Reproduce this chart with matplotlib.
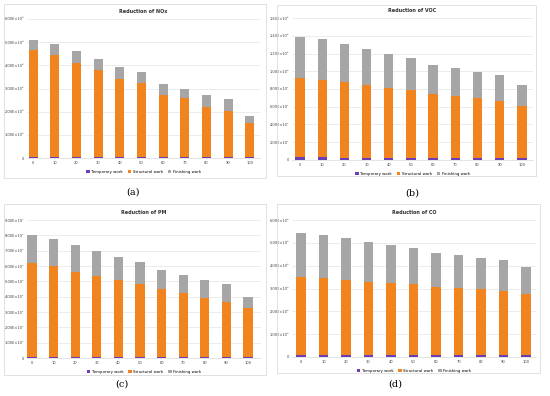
import matplotlib.pyplot as plt
from matplotlib.patches import Rectangle
import numpy as np

# share of the scenario (x axis)
categories = ['0', '10', '20', '30', '40', '50', '60', '70', '80', '90', '100']

# values in units of the axis exponent
nox_temp = [0.03, 0.03, 0.03, 0.03, 0.03, 0.03, 0.03, 0.03, 0.03, 0.03, 0.03]
nox_struct = [4.63, 4.41, 4.05, 3.76, 3.40, 3.19, 2.69, 2.54, 2.18, 2.00, 1.49]
nox_finish = [0.45, 0.50, 0.53, 0.48, 0.51, 0.49, 0.48, 0.43, 0.49, 0.50, 0.30]

voc_temp = [0.30, 0.30, 0.28, 0.28, 0.27, 0.27, 0.26, 0.26, 0.25, 0.25, 0.24]
voc_struct = [8.95, 8.76, 8.47, 8.14, 7.84, 7.58, 7.17, 6.99, 6.69, 6.43, 5.87]
voc_finish = [4.65, 4.54, 4.35, 4.08, 3.89, 3.65, 3.32, 3.15, 3.02, 2.90, 2.34]

pm_temp = [0.08, 0.08, 0.08, 0.08, 0.08, 0.08, 0.08, 0.08, 0.08, 0.08, 0.08]
pm_struct = [6.09, 5.92, 5.55, 5.27, 5.01, 4.75, 4.40, 4.14, 3.85, 3.59, 3.16]
pm_finish = [1.85, 1.74, 1.76, 1.61, 1.48, 1.43, 1.26, 1.21, 1.16, 1.16, 0.76]

co_temp = [0.10, 0.10, 0.10, 0.10, 0.10, 0.10, 0.09, 0.09, 0.09, 0.09, 0.09]
co_struct = [3.39, 3.34, 3.28, 3.19, 3.14, 3.08, 2.97, 2.94, 2.88, 2.81, 2.66]
co_finish = [1.92, 1.90, 1.81, 1.74, 1.66, 1.58, 1.50, 1.44, 1.37, 1.35, 1.18]

panels = [
    # title, temp, struct, finish, ymax, step, exponent, label
    ("Reduction of NOx", nox_temp, nox_struct, nox_finish, 6, 1, 6, '(a)'),
    ("Reduction of VOC", voc_temp, voc_struct, voc_finish, 16, 2, 7, '(b)'),
    ("Reduction of PM", pm_temp, pm_struct, pm_finish, 9, 1, 7, '(c)'),
    ("Reduction of CO", co_temp, co_struct, co_finish, 6, 1, 8, '(d)'),
]

# axes rects in pixels: left, top, right, bottom
rects_px = [(27, 19, 260, 158), (292, 18, 533, 160),
            (27, 220, 261, 358), (292, 220, 536, 357)]
xlims = [(-0.28, 10.47), (-0.36, 10.5), (-0.23, 10.6), (-0.4, 10.44)]
frames_px = [(4, 4, 266, 178), (277, 5, 536, 176),
             (4, 204, 266, 375), (277, 204, 540, 373)]
label_pos = [(133, 192), (412, 193), (122, 384), (395, 384)]

c_temp = '#6a3fb5'
c_struct = '#f2841f'
c_finish = '#a6a6a6'

W, H = 550, 396
fig = plt.figure(figsize=(5.5, 3.96), dpi=100)
fig.patch.set_facecolor('white')

sup = {6: '⁶', 7: '⁷', 8: '⁸', 9: '⁹'}

for (title, tmp, st, fin, ymax, step, ex, lab), r, xl, fr, lp in zip(panels, rects_px, xlims, frames_px, label_pos):
    fig.patches.append(Rectangle((fr[0] / W, 1 - fr[3] / H), (fr[2] - fr[0]) / W, (fr[3] - fr[1]) / H,
                                 transform=fig.transFigure, fill=False, edgecolor='#dcdcdc', lw=0.6))
    ax = fig.add_axes([r[0] / W, 1 - r[3] / H, (r[2] - r[0]) / W, (r[3] - r[1]) / H])
    x = np.arange(len(categories))
    tmp = np.array(tmp)
    st = np.array(st)
    fin = np.array(fin)
    ax.bar(x, tmp, width=0.42, color=c_temp, label='Temporary work', zorder=3)
    ax.bar(x, st, width=0.42, bottom=tmp, color=c_struct, label='Structural work', zorder=3)
    ax.bar(x, fin, width=0.42, bottom=tmp + st, color=c_finish, label='Finishing work', zorder=3)
    ax.set_xlim(*xl)
    ax.set_ylim(0, ymax)
    ticks = np.arange(0, ymax + 0.01, step)
    ax.set_yticks(ticks)
    labs = []
    for t in ticks:
        if t == 0:
            labs.append('0')
        elif t >= 10:
            labs.append(f"{t / 10:.2f}E×10{sup[ex + 1]}")
        else:
            labs.append(f"{t:.2f}E×10{sup[ex]}")
    ax.set_yticklabels(labs)
    ax.set_xticks(x)
    ax.set_xticklabels(categories)
    ax.tick_params(axis='both', labelsize=2.6, length=0, pad=2, colors='#404040')
    ax.grid(axis='y', color='#e4e4e4', lw=0.5, zorder=0)
    for s in ['top', 'right', 'left']:
        ax.spines[s].set_visible(False)
    ax.spines['bottom'].set_color('#d9d9d9')
    ax.spines['bottom'].set_linewidth(0.5)
    ax.set_title(title, fontsize=3.5, fontweight='bold', pad=4, color='#303030')
    ax.legend(loc='upper center', bbox_to_anchor=(0.5, -0.06), ncol=3, fontsize=2.8,
              frameon=False, handlelength=0.9, handleheight=0.9, columnspacing=1.2, handletextpad=0.4)
    fig.text(lp[0] / W, 1 - lp[1] / H, lab, fontsize=7, ha='center', va='center', family='DejaVu Serif')

fig.savefig('out.png', dpi=100)
